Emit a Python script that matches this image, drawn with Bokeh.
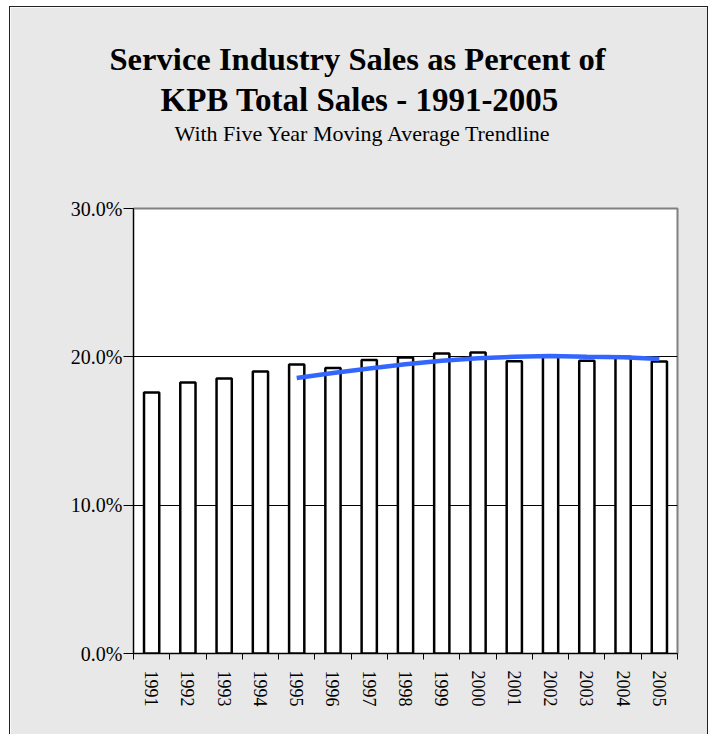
from bokeh.plotting import figure
from bokeh.models import Title, FixedTicker, PrintfTickFormatter
from bokeh.embed import file_html
from bokeh.resources import INLINE

years = [1991, 1992, 1993, 1994, 1995, 1996, 1997, 1998, 1999, 2000, 2001, 2002, 2003, 2004, 2005]
sales_pct = [17.6, 18.27, 18.54, 19.01, 19.49, 19.24, 19.78, 19.96, 20.23, 20.30, 19.71, 20.1, 19.73, 20.0, 19.69]
trend_years = [1995, 1996, 1997, 1998, 1999, 2000, 2001, 2002, 2003, 2004, 2005]
trend_pct = [18.58, 18.91, 19.21, 19.50, 19.74, 19.90, 20.00, 20.06, 20.01, 19.97, 19.85]
y_ticks = [0, 10, 20, 30]

FONT = "Liberation Serif"
BG = "#e8e8e8"

p = figure(width=697, height=727, output_backend="svg", toolbar_location=None,
           x_range=(1990.5, 2005.5), y_range=(0, 30),
           min_border_left=123, min_border_right=30, min_border_top=201, min_border_bottom=81)
p.styles = {"margin-left": "10px", "margin-top": "7px", "outline": "1px solid #222222"}
p.background_fill_color = "white"
p.border_fill_color = BG
p.outline_line_color = "#808080"
p.outline_line_width = 2

p.vbar(x=years, top=sales_pct, width=0.42, fill_color="white", line_color="black", line_width=2.5)
p.line(trend_years, trend_pct, line_color="#3366ff", line_width=4.5)

p.xgrid.visible = False
p.ygrid.ticker = FixedTicker(ticks=[10, 20])
p.ygrid.grid_line_color = "black"
p.ygrid.grid_line_width = 1

p.yaxis.ticker = FixedTicker(ticks=y_ticks)
p.yaxis.formatter = PrintfTickFormatter(format="%.1f%%")
p.yaxis.major_label_text_font = FONT
p.yaxis.major_label_text_font_size = "20px"
p.yaxis.major_label_text_color = "black"
p.yaxis.major_tick_in = 0
p.yaxis.major_tick_out = 10
p.yaxis.minor_tick_out = 0
p.yaxis.minor_tick_in = 0
p.yaxis.axis_line_color = "black"
p.yaxis.major_label_standoff = 1

boundaries = [y - 0.5 for y in years] + [years[-1] + 0.5]
p.xaxis.ticker = FixedTicker(ticks=years, minor_ticks=boundaries)
p.xaxis.major_tick_out = 0
p.xaxis.major_tick_in = 0
p.xaxis.minor_tick_out = 6
p.xaxis.minor_tick_in = 0
p.xaxis.minor_tick_line_color = "black"
p.xaxis.axis_line_color = "black"
p.xaxis.major_label_orientation = "vertical"
p.xaxis.major_label_text_font = FONT
p.xaxis.major_label_text_font_size = "18px"
p.xaxis.major_label_text_color = "black"
p.xaxis.major_label_standoff = 11

# spacer closest to the frame
p.add_layout(Title(text=" ", text_font=FONT, text_font_size="10px", standoff=49), "above")
p.add_layout(Title(text="With Five Year Moving Average Trendline", text_font=FONT,
                   text_font_size="22px", text_font_style="normal", align="left",
                   offset=41, standoff=2, text_color="black"), "above")
p.add_layout(Title(text="KPB Total Sales - 1991-2005", text_font=FONT,
                   text_font_size="33px", text_font_style="bold", align="left",
                   offset=27, standoff=0, text_color="black"), "above")
p.add_layout(Title(text="Service Industry Sales as Percent of", text_font=FONT,
                   text_font_size="32.6px", text_font_style="bold", align="left",
                   offset=-24, standoff=6, text_color="black"), "above")

open("out.html", "w").write(file_html(p, INLINE))
